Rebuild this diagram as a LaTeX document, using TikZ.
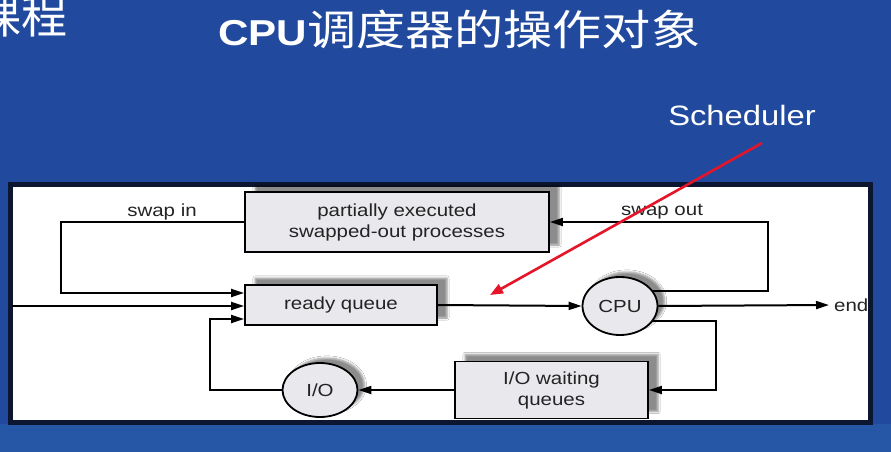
\documentclass[tikz,border=0pt]{standalone}
\usepackage{fontspec}
\setmainfont{Liberation Sans}[FakeStretch=1.17]
\newfontfamily\cjk{Noto Sans CJK SC}[FakeStretch=1.17]
\newfontfamily\cjkb{Noto Sans CJK SC}
\usetikzlibrary{arrows.meta,shapes.geometric,shadows.blur}
\definecolor{slide}{RGB}{33,74,158}
\definecolor{slidelow}{RGB}{38,86,166}
\definecolor{panelborder}{RGB}{12,22,48}
\definecolor{boxfill}{RGB}{233,233,237}
\definecolor{inkgray}{RGB}{35,35,35}
\definecolor{schedred}{RGB}{230,20,40}
\tikzset{
  boxnode/.style={rectangle, draw=black, line width=1.8pt, fill=boxfill, inner sep=0pt,
    text=inkgray, align=center, font=\fontsize{17.5}{21}\selectfont,
    blur shadow={shadow xshift=10pt, shadow yshift=7pt, shadow blur steps=5, shadow opacity=45}},
  ellnode/.style={ellipse, draw=black, line width=1.8pt, fill=boxfill, inner sep=0pt,
    text=inkgray, font=\fontsize{17.5}{21}\selectfont,
    blur shadow={shadow xshift=7pt, shadow yshift=5pt, shadow blur steps=5, shadow opacity=45}},
  lbl/.style={text=inkgray, font=\fontsize{17.5}{21}\selectfont, inner sep=0pt},
  arr/.style={draw=black, line width=2pt, -{Triangle[length=13pt,width=8pt]}},
  redarr/.style={draw=schedred, line width=2.6pt, -{Triangle[length=13pt,width=10pt]}},
}
\begin{document}
\begin{tikzpicture}[x=1pt,y=-1pt]
\useasboundingbox (0,0) rectangle (891,452);
\clip (0,0) rectangle (891,452);
\fill[slide] (0,0) rectangle (891,452);
\fill[slidelow] (0,424) rectangle (891,452);
% corner logo text (clipped)
\node[anchor=east, text=white, inner sep=0pt, font=\cjkb\fontsize{46}{46}\selectfont] (logo) at (68,16) {课程};
% title
\node[anchor=base west, text=white, inner sep=0pt] (title) at (218,46)
  {\fontsize{36}{40}\selectfont\bfseries CPU\mdseries\cjk\fontsize{42}{44}\selectfont 调度器的操作对象};
% Scheduler label
\node[text=white, inner sep=0pt, font=\fontsize{28}{32}\selectfont] (sched) at (742,115) {Scheduler};
% panel
\draw[line width=5pt, draw=panelborder, fill=white] (10.5,184.5) rectangle (870.5,422.5);
% nodes
\node[boxnode, minimum width=304pt, minimum height=60pt] (part) at (397,222)
  {partially executed\\swapped-out processes};
\node[boxnode, minimum width=192pt, minimum height=40pt] (rq) at (341,305) {ready queue};
\node[ellnode, minimum width=75pt, minimum height=58pt] (cpu) at (620,306) {CPU};
\node[boxnode, minimum width=193pt, minimum height=57pt] (iow) at (551.5,390) {I/O waiting\\queues};
\node[ellnode, minimum width=75pt, minimum height=54pt] (io) at (320,390) {I/O};
\node[lbl, anchor=west] (endl) at (834,305) {end};
\node[lbl] (swapin) at (162,212) {swap in};
\node[lbl] (swapout) at (662,212) {swap out};
\coordinate (entry) at (12,306);
% connectors
\draw[arr] (part.west) -- ++(-183,0) |- ([yshift=12pt]rq.west);
\draw[arr] (entry) -- ([yshift=-1pt]rq.west);
\draw[arr] (io.west) -- ++(-72,0) |- ([yshift=-14pt]rq.west);
\draw[arr] (rq.east) -- (cpu.west);
\draw[arr] (cpu.25) -| ([xshift=218pt]part.east) -- (part.east);
\draw[arr] (cpu.east) -- ([xshift=-5pt]endl.west);
\draw[arr] (cpu.-25) -| ([xshift=67pt]iow.east) -- (iow.east);
\draw[arr] (iow.west) -- (io.east);
% scheduler pointer
\coordinate (schedtail) at (762,143);
\coordinate (schedtip) at (490,295);
\draw[redarr] (schedtail) -- (schedtip);
\end{tikzpicture}
\end{document}
